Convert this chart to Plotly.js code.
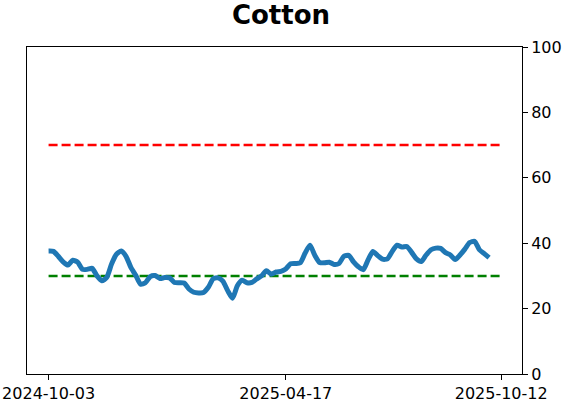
<!DOCTYPE html>
<html>
<head>
<meta charset="utf-8">
<script src="https://cdn.plot.ly/plotly-3.0.1.min.js"></script>
<style>html,body{margin:0;padding:0;background:#fff;}#chart{width:562px;height:402px;}</style>
</head>
<body>
<div id="chart"></div>
<script>
const dates = [
"2024-10-03","2024-10-07","2024-10-11","2024-10-15","2024-10-19","2024-10-23","2024-10-27","2024-10-31",
"2024-11-04","2024-11-08","2024-11-12","2024-11-16","2024-11-20","2024-11-24","2024-11-28","2024-12-02",
"2024-12-06","2024-12-10","2024-12-14","2024-12-18","2024-12-22","2024-12-26","2024-12-30","2025-01-03",
"2025-01-07","2025-01-11","2025-01-15","2025-01-19","2025-01-23","2025-01-27","2025-01-31","2025-02-04",
"2025-02-08","2025-02-12","2025-02-16","2025-02-20","2025-02-24","2025-02-28","2025-03-04","2025-03-08",
"2025-03-12","2025-03-16","2025-03-20","2025-03-24","2025-03-28","2025-04-01","2025-04-05","2025-04-09",
"2025-04-13","2025-04-17","2025-04-21","2025-04-25","2025-04-29","2025-05-03","2025-05-07","2025-05-11",
"2025-05-15","2025-05-19","2025-05-23","2025-05-27","2025-05-31","2025-06-04","2025-06-08","2025-06-12",
"2025-06-16","2025-06-20","2025-06-24","2025-06-28","2025-07-02","2025-07-06","2025-07-10","2025-07-14",
"2025-07-18","2025-07-22","2025-07-26","2025-07-30","2025-08-03","2025-08-07","2025-08-11","2025-08-15",
"2025-08-19","2025-08-23","2025-08-27","2025-08-31","2025-09-04","2025-09-08","2025-09-12","2025-09-16",
"2025-09-20","2025-09-24","2025-09-28","2025-10-02"
];
const values = [
37.6,37.5,36.0,34.3,33.3,34.8,34.2,32.0,
32.0,32.3,30.0,28.5,29.5,33.6,36.6,37.6,
36.0,32.6,30.2,27.5,27.9,29.8,30.1,29.2,
29.5,29.4,28.0,27.9,27.8,26.0,25.0,24.8,
24.9,26.5,29.1,29.4,28.4,25.5,23.2,27.0,
28.7,27.9,28.0,29.1,30.0,31.6,30.5,31.2,
31.4,32.1,33.7,33.8,34.0,37.0,39.4,36.3,
34.1,34.0,34.2,33.5,33.8,36.0,36.3,34.3,
32.8,31.9,34.9,37.5,36.2,35.1,35.2,37.5,
39.4,38.8,39.0,37.2,35.2,34.4,36.4,38.0,
38.5,38.4,37.1,36.4,35.0,36.4,38.2,40.2,
40.6,38.0,36.8,35.6
];
const refSpan = ["2024-10-03","2025-10-12"];
const upperLevel = 70;
const lowerLevel = 30;
const tickDates = ["2024-10-03","2025-04-17","2025-10-12"];
const yTicks = [0,20,40,60,80,100];

const traces = [
  {x: refSpan, y: [upperLevel, upperLevel], mode: "lines", line: {color: "#ff0000", width: 2.5, dash: "9px,4px"}, hoverinfo: "skip"},
  {x: refSpan, y: [lowerLevel, lowerLevel], mode: "lines", line: {color: "#008000", width: 2.5, dash: "9px,4px"}, hoverinfo: "skip"},
  {x: dates, y: values, mode: "lines", line: {color: "#1f77b4", width: 5, shape: "spline", smoothing: 0.6}}
];

const layout = {
  width: 562, height: 402,
  margin: {l: 27, r: 40, t: 47, b: 28, pad: 0},
  paper_bgcolor: "#fff", plot_bgcolor: "#fff",
  showlegend: false,
  font: {family: "DejaVu Sans", size: 16, color: "#000"},
  title: {text: "<b>Cotton</b>", font: {family: "DejaVu Sans", size: 26, color: "#000"}, x: 0.5, xanchor: "center", y: 1 - 15/402, yanchor: "middle", yref: "container"},
  xaxis: {
    type: "date",
    range: ["2024-09-15 04:00", "2025-10-29 05:00"],
    tickvals: tickDates, ticktext: tickDates,
    ticks: "outside", ticklen: 5, tickwidth: 1, tickcolor: "#000",
    showline: true, linecolor: "#000", linewidth: 1, mirror: true,
    showgrid: false, zeroline: false,
    tickfont: {family: "DejaVu Sans", size: 16, color: "#000"}
  },
  yaxis: {
    side: "right",
    range: [0, 100],
    tickvals: yTicks,
    ticks: "outside", ticklen: 5, tickwidth: 1, tickcolor: "#000",
    showline: true, linecolor: "#000", linewidth: 1, mirror: true,
    showgrid: false, zeroline: false,
    tickfont: {family: "DejaVu Sans", size: 16, color: "#000"}
  }
};

Plotly.newPlot("chart", traces, layout, {displayModeBar: false, staticPlot: true});
</script>
</body>
</html>
